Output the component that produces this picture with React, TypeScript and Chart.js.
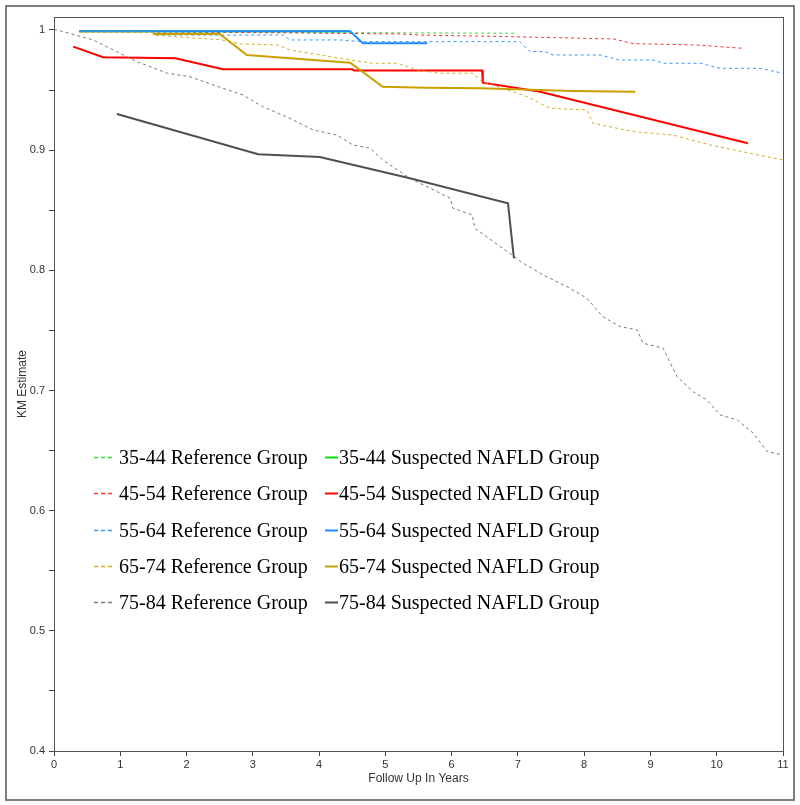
import React, { useEffect, useRef } from "react";
import { Chart, registerables } from "chart.js";

Chart.register(...registerables);

// ---------- data ----------
const GROUPS = ["35-44", "45-54", "55-64", "65-74", "75-84"];
const SUS_COLORS = ["#00e400", "#ff0000", "#1e8cff", "#c9a000", "#4f4f4f"];
const REF_COLORS = ["#33dd33", "#ff3333", "#3d97ff", "#d2ad2a", "#7a7a7a"];

const X_TICKS = [0, 1, 2, 3, 4, 5, 6, 7, 8, 9, 10, 11];
const Y_TICKS = [0.4, 0.45, 0.5, 0.55, 0.6, 0.65, 0.7, 0.75, 0.8, 0.85, 0.9, 0.95, 1.0];

const REF_35_44 = [[0.38, 0.9986], [2.0, 0.9983], [4.0, 0.9978], [6.96, 0.9973]];
const SUS_35_44 = [[0.38, 0.9989], [4.45, 0.9989]];

const REF_45_54 = [[0.38, 0.9986], [1.95, 0.9983], [3.5, 0.9976], [5.22, 0.9967], [5.5, 0.9958], [6.93, 0.9944], [8.45, 0.9925], [8.75, 0.9886], [9.7, 0.9875], [10.38, 0.9848]];
const SUS_45_54 = [[0.29, 0.9861], [0.74, 0.9773], [1.83, 0.9765], [2.55, 0.9673], [4.5, 0.9673], [4.53, 0.9663], [6.46, 0.9663], [6.47, 0.9561], [7.32, 0.9488], [10.47, 0.9057]];

const REF_55_64 = [[0.38, 0.9989], [1.49, 0.9986], [1.52, 0.9958], [3.46, 0.9958], [3.56, 0.9917], [4.32, 0.9917], [4.66, 0.9903], [7.03, 0.9903], [7.18, 0.982], [7.41, 0.982], [7.53, 0.9792], [8.24, 0.9792], [8.54, 0.975], [9.04, 0.975], [9.2, 0.9723], [9.75, 0.9723], [10.05, 0.9681], [10.65, 0.9681], [11.0, 0.964]];
const SUS_55_64 = [[0.38, 0.9989], [4.47, 0.9989], [4.66, 0.9889], [5.63, 0.9889]];

const REF_65_74 = [[0.39, 0.9981], [1.49, 0.9981], [1.52, 0.9958], [2.05, 0.9935], [2.5, 0.992], [2.8, 0.9885], [3.37, 0.9875], [3.56, 0.9834], [4.01, 0.9792], [4.47, 0.975], [4.81, 0.9723], [5.18, 0.9723], [5.48, 0.9667], [5.82, 0.964], [6.32, 0.964], [6.46, 0.957], [6.73, 0.9523], [7.14, 0.9445], [7.48, 0.9349], [8.04, 0.9334], [8.13, 0.9224], [8.74, 0.9154], [9.34, 0.9126], [9.9, 0.9043], [10.46, 0.8979], [11.0, 0.8918]];
const SUS_65_74 = [[1.49, 0.9967], [2.5, 0.9967], [2.91, 0.9792], [4.47, 0.9728], [4.96, 0.9528], [5.63, 0.952], [6.43, 0.9515], [7.83, 0.9493], [8.77, 0.9487]];

const REF_75_84 = [[0, 1.0], [0.05, 1.0], [0.59, 0.9917], [0.95, 0.9819], [1.25, 0.9736], [1.45, 0.9695], [1.71, 0.964], [2.05, 0.9611], [2.55, 0.9515], [2.85, 0.9459], [3.15, 0.9362], [3.56, 0.9265], [3.91, 0.9168], [4.27, 0.9126], [4.51, 0.9043], [4.77, 0.9016], [4.96, 0.8918], [5.37, 0.8766], [5.98, 0.86], [6.02, 0.8517], [6.31, 0.8461], [6.35, 0.835], [6.91, 0.8128], [7.08, 0.8059], [7.38, 0.7962], [7.74, 0.7864], [8.04, 0.7768], [8.28, 0.7615], [8.54, 0.7532], [8.8, 0.7504], [8.89, 0.7393], [9.19, 0.7352], [9.4, 0.7116], [9.64, 0.6991], [9.85, 0.6922], [10.05, 0.6797], [10.31, 0.6755], [10.55, 0.6645], [10.76, 0.6492], [10.99, 0.6464]];
const SUS_75_84 = [[0.95, 0.9301], [3.08, 0.8966], [4.01, 0.8943], [5.37, 0.8766], [6.85, 0.8558], [6.94, 0.81]];

const REF_SERIES = [REF_35_44, REF_45_54, REF_55_64, REF_65_74, REF_75_84];
const SUS_SERIES = [SUS_35_44, SUS_45_54, SUS_55_64, SUS_65_74, SUS_75_84];

const X_TITLE = "Follow Up In Years";
const Y_TITLE = "KM Estimate";

// ---------- plugins ----------
const framePlugin = {
  id: "frames",
  beforeDraw(chart: any) {
    const ctx = chart.ctx;
    ctx.save();
    ctx.fillStyle = "#ffffff";
    ctx.fillRect(0, 0, chart.width, chart.height);
    ctx.strokeStyle = "#7f7f7f";
    ctx.lineWidth = 2;
    ctx.strokeRect(6, 6, chart.width - 12, chart.height - 11);
    ctx.restore();
  },
  afterDraw(chart: any) {
    const { ctx, chartArea } = chart;
    ctx.save();
    ctx.strokeStyle = "#555555";
    ctx.lineWidth = 1;
    ctx.strokeRect(
      Math.round(chartArea.left) + 0.5,
      Math.round(chartArea.top) + 0.5,
      Math.round(chartArea.right - chartArea.left),
      Math.round(chartArea.bottom - chartArea.top)
    );
    ctx.restore();
  },
};

const legendPlugin = {
  id: "kmLegend",
  afterDatasetsDraw(chart: any) {
    const ctx = chart.ctx;
    const xs = chart.scales.x;
    const ys = chart.scales.y;
    ctx.save();
    ctx.font = "20px 'Liberation Serif', 'Times New Roman', serif";
    ctx.textBaseline = "middle";
    ctx.textAlign = "left";
    chart.data.datasets.forEach((ds: any) => {
      const row = ds.legendRow;
      const col = ds.legendCol;
      const y = Math.round(ys.top + 440 + row * 36.3) + 0.5;
      const sx = col === 0 ? xs.left + 40 : xs.left + 271;
      const sw = col === 0 ? 18 : 13;
      const tx = col === 0 ? xs.left + 65 : xs.left + 285;
      ctx.strokeStyle = ds.borderColor;
      ctx.lineWidth = col === 0 ? 1.5 : 2;
      ctx.setLineDash(col === 0 ? [4, 3] : []);
      ctx.beginPath();
      ctx.moveTo(sx, y);
      ctx.lineTo(sx + sw, y);
      ctx.stroke();
      ctx.setLineDash([]);
      ctx.fillStyle = "#000000";
      ctx.fillText(ds.label, tx, y + 1);
    });
    ctx.restore();
  },
};

export default function App() {
  const ref = useRef<HTMLCanvasElement | null>(null);

  useEffect(() => {
    if (!ref.current) return;
    const datasets: any[] = [];
    GROUPS.forEach((g, i) => {
      datasets.push({
        label: `${g} Reference Group`,
        data: REF_SERIES[i].map(([x, y]) => ({ x, y })),
        borderColor: REF_COLORS[i],
        borderWidth: 1,
        borderDash: [3, 3],
        pointRadius: 0,
        tension: 0,
        fill: false,
        order: 100 - 2 * i,
        legendRow: i,
        legendCol: 0,
      });
      datasets.push({
        label: `${g} Suspected NAFLD Group`,
        data: SUS_SERIES[i].map(([x, y]) => ({ x, y })),
        borderColor: SUS_COLORS[i],
        borderWidth: 2,
        pointRadius: 0,
        tension: 0,
        fill: false,
        order: 99 - 2 * i,
        legendRow: i,
        legendCol: 1,
      });
    });

    const tickFont = { family: "'Liberation Sans', Arial, sans-serif", size: 11 };
    const titleFont = { family: "'Liberation Sans', Arial, sans-serif", size: 12 };

    const chart = new Chart(ref.current, {
      type: "line",
      data: { datasets },
      options: {
        animation: false,
        responsive: false,
        devicePixelRatio: 1,
        layout: { padding: { top: 17, right: 17, left: 0, bottom: 0 } },
        plugins: {
          legend: { display: false },
          tooltip: { enabled: false },
        },
        scales: {
          x: {
            type: "linear",
            min: 0,
            max: 11,
            afterFit: (s: any) => {
              s.height = 54;
            },
            afterBuildTicks: (s: any) => {
              s.ticks = X_TICKS.map((v) => ({ value: v }));
            },
            grid: { drawOnChartArea: false, drawTicks: true, tickLength: 5, color: "#444" },
            border: { display: true, color: "#444" },
            ticks: {
              autoSkip: false,
              maxRotation: 0,
              padding: 2,
              color: "#333",
              font: tickFont,
              callback: (v: any) => String(v),
            },
            title: {
              display: true,
              text: X_TITLE,
              color: "#333",
              font: titleFont,
              padding: { top: 0, bottom: 19 },
            },
          },
          y: {
            type: "linear",
            min: 0.4,
            max: 1.0108,
            afterFit: (s: any) => {
              s.width = 54;
            },
            afterBuildTicks: (s: any) => {
              s.ticks = Y_TICKS.map((v) => ({ value: v }));
            },
            grid: { drawOnChartArea: false, drawTicks: true, tickLength: 5, color: "#444" },
            border: { display: true, color: "#444" },
            ticks: {
              autoSkip: false,
              padding: 4,
              color: "#333",
              font: tickFont,
              callback: (v: any) => {
                const n = Number(v);
                const t = Math.round(n * 10);
                if (Math.abs(n * 10 - t) > 1e-6) return "";
                return String(t / 10);
              },
            },
            title: {
              display: true,
              text: Y_TITLE,
              color: "#333",
              font: titleFont,
              padding: { top: 15, bottom: 0 },
            },
          },
        },
      } as any,
      plugins: [framePlugin, legendPlugin],
    });
    return () => chart.destroy();
  }, []);

  return (
    <div style={{ position: "fixed", left: 0, top: 0, width: 800, height: 805, background: "#fff" }}>
      <canvas ref={ref} width={800} height={805} style={{ display: "block", width: 800, height: 805 }} />
    </div>
  );
}
